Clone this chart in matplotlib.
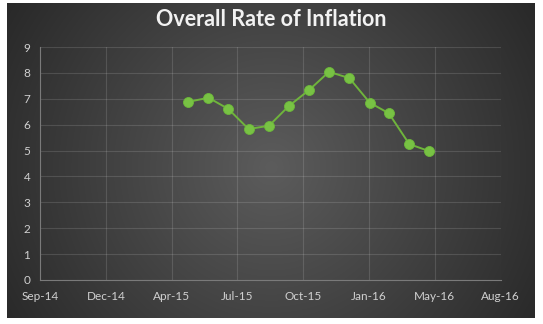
import numpy as np
import matplotlib
matplotlib.use("Agg")
import matplotlib.pyplot as plt
import matplotlib.dates as mdates
import datetime as dt

# Data
months = ["2015-05-01", "2015-06-01", "2015-07-01", "2015-08-01", "2015-09-01",
          "2015-10-01", "2015-11-01", "2015-12-01", "2016-01-01", "2016-02-01",
          "2016-03-01", "2016-04-01", "2016-05-01"]
inflation = [6.88, 7.04, 6.61, 5.83, 5.96, 6.72, 7.34, 8.04, 7.80, 6.85, 6.44, 5.25, 4.98]
title = "Overall Rate of Inflation"
axis_start = "2014-09-18"
axis_step_days = 100
n_ticks = 8
y_ticks = list(range(0, 10))

W, H = 543, 324
fig = plt.figure(figsize=(W / 100, H / 100), dpi=100)
fig.patch.set_facecolor("white")

# background panel with radial gradient
px0, py0, px1, py1 = 7, 3, 535, 318
bg = fig.add_axes([px0 / W, 1 - py1 / H, (px1 - px0) / W, (py1 - py0) / H])
gw, gh = px1 - px0, py1 - py0
yy, xx = np.mgrid[0:gh, 0:gw]
cx, cy = gw * 0.5, gh * 0.52
r = np.sqrt(((xx - cx) / (gw * 0.62)) ** 2 + ((yy - cy) / (gw * 0.62)) ** 2)
r = np.clip(r, 0, 1)
c_in, c_out = 0x5c / 255, 0x26 / 255
val = c_in + (c_out - c_in) * r
img = np.dstack([val, val, val])
bg.imshow(img, aspect="auto", interpolation="bilinear")
bg.set_axis_off()

# main axes
L, R, T, B = 40, 500.7, 47, 280
ax = fig.add_axes([L / W, 1 - B / H, (R - L) / W, (B - T) / H])
ax.patch.set_alpha(0)

x = [dt.datetime.fromisoformat(m) for m in months]
x0 = dt.datetime.fromisoformat(axis_start)
ticks = [x0 + dt.timedelta(days=axis_step_days * k) for k in range(n_ticks)]

ax.plot(x, inflation, color="#6fb43c", lw=1.4, marker="o", markersize=7.2,
        markerfacecolor="#78c244", markeredgecolor="#6cb83a", markeredgewidth=0.6,
        zorder=3)

ax.set_xlim(ticks[0], ticks[-1])
ax.set_ylim(0, 9)
ax.set_xticks(ticks)
ax.xaxis.set_major_formatter(mdates.DateFormatter("%b-%y"))
ax.set_yticks(y_ticks)

ax.grid(True, color="white", alpha=0.13, lw=0.8, zorder=0)
for s in ["top", "right"]:
    ax.spines[s].set_visible(False)
for s in ["left", "bottom"]:
    ax.spines[s].set_color("#7a7a7a")
    ax.spines[s].set_linewidth(0.8)

font = ["Lato", "DejaVu Sans"]
ax.tick_params(axis="both", length=0, colors="#d0d0d0", labelsize=8.5)
ax.tick_params(axis="x", pad=8)
ax.tick_params(axis="y", pad=7)
for lab in ax.get_xticklabels() + ax.get_yticklabels():
    lab.set_family(font)

fig.text(271 / W, 1 - 19 / H, title, ha="center", va="center", color="#f2f2f2",
         fontsize=15.5, fontweight="bold", family=font)

fig.savefig("out.png", dpi=100, facecolor=fig.get_facecolor())
